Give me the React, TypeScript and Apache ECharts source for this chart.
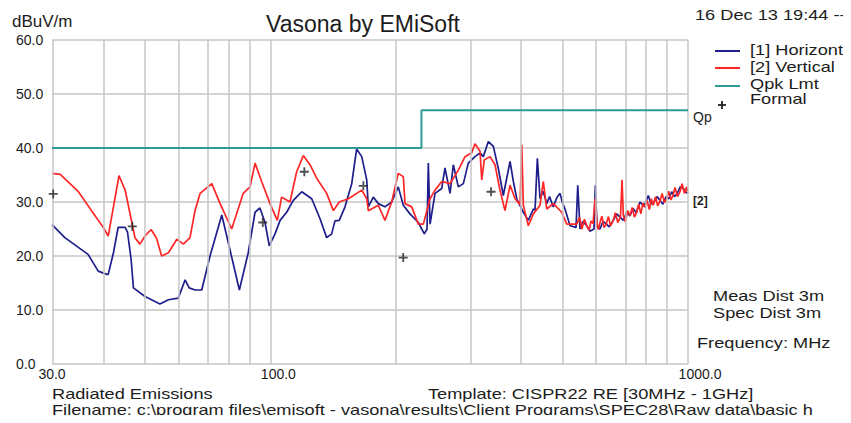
import React, { useEffect, useRef } from "react";
import * as echarts from "echarts";

// Frequency grid (MHz) and tick labels
const gridFreqs = [30, 40, 50, 60, 70, 80, 90, 100, 200, 300, 400, 500, 600, 700, 800, 900, 1000];
const tickFreqs = [30, 100, 1000];

// [1] Horizontal
const hFreq = [30, 32.2, 36.6, 38.7, 40.6, 40.9, 42.1, 43.2, 44.9, 45.5, 46.4, 47.0, 50.1, 54.4, 57.0, 60.2, 62.5, 63.9, 66.0, 68.5, 71.7, 76.5, 80.0, 84.3, 88.5, 91.9, 94.4, 97.1, 99.4, 102.6, 105.5, 109.4, 113.5, 118.9, 125.6, 131.5, 136.4, 140.2, 142.8, 146.2, 150.9, 156.6, 160.9, 165.5, 170.1, 171.6, 176.4, 181.3, 188.1, 195.2, 202.4, 208.1, 215.9, 226.1, 233.7, 237.2, 238.9, 241.2, 247.9, 257.2, 261.9, 269.3, 274.2, 281.9, 289.8, 297.8, 309.0, 317.7, 323.5, 332.6, 341.9, 351.4, 361.2, 374.9, 381.8, 389.0, 403.4, 414.7, 426.3, 430.3, 435.8, 442.3, 450, 458.9, 466, 475.9, 485, 493.8, 500, 507.6, 521.8, 539.4, 544.5, 551.4, 560, 572.2, 582, 595.7, 600.0, 605.5, 615.6, 626, 636.3, 648, 662.4, 675, 687.5, 700, 713.3, 726, 738.5, 752, 767.6, 785, 803.5, 816, 829.1, 843, 857.0, 871, 885.9, 900, 914.2, 928, 941.4, 958, 974.6, 988, 1000];
const hLevel = [25.8, 23.4, 20.3, 17.2, 16.6, 16.6, 20.6, 25.3, 25.3, 24.4, 19.4, 14.1, 12.5, 11.1, 11.9, 12.2, 15.6, 14.1, 13.7, 13.7, 20.0, 27.6, 21.2, 13.7, 20.6, 28.1, 28.9, 26.2, 21.9, 24.1, 26.6, 28.1, 30.3, 31.9, 30.6, 26.9, 23.4, 24.1, 26.5, 26.6, 29.1, 33.4, 39.8, 38.4, 34.1, 29.1, 30.9, 29.7, 29.1, 30.0, 32.8, 29.4, 27.8, 26.2, 24.1, 25.0, 37.2, 25.9, 31.6, 32.5, 36.3, 31.6, 36.9, 32.8, 33.4, 37.2, 38.4, 39.1, 38.4, 41.2, 40.3, 36.2, 31.2, 37.5, 33.8, 30.6, 28.1, 26.6, 28.7, 28.5, 38.1, 30.6, 32.0, 29.7, 31.0, 29.1, 30.8, 31.6, 30.0, 28.7, 25.6, 25.3, 33.1, 25.0, 26.4, 25.6, 24.6, 25.0, 33.1, 25.5, 25.0, 26.4, 26.0, 25.4, 26.6, 27.8, 27.2, 26.6, 28.1, 27.4, 28.8, 28.0, 30.0, 29.2, 31.2, 29.6, 30.0, 31.0, 30.3, 29.6, 31.0, 30.6, 31.9, 31.0, 31.5, 32.8, 32.5, 31.8, 31.6];

// [2] Vertical
const vFreq = [30, 31.4, 34.7, 37.3, 39.8, 40.9, 42.1, 43.4, 44.9, 46.4, 47.4, 48.7, 50.1, 51.8, 53.4, 54.9, 57.0, 59.7, 61.9, 64.2, 66.0, 67.9, 72.4, 75.8, 80.8, 86.1, 89.4, 91.9, 95.3, 99.8, 103.9, 106.4, 111.4, 115.6, 119.9, 124.4, 129.1, 136.4, 141.5, 146.2, 153.7, 165.5, 170.1, 171.6, 181.3, 188.1, 195.2, 202.4, 208.1, 210.1, 218.0, 226.1, 232.4, 241.2, 247.9, 257.2, 269.3, 281.9, 292.5, 303.4, 309.0, 317.7, 320.7, 325.3, 335.7, 345.0, 354.7, 364.6, 374.9, 385.4, 396.2, 399.9, 403.4, 414.7, 426.3, 442.3, 450.4, 458.9, 475.9, 498.4, 512.4, 541.5, 550, 557, 565, 572.2, 580, 586, 592.4, 599.0, 605.5, 610, 615.6, 622, 629, 636.3, 645, 652, 662.4, 670, 679, 689.3, 695.1, 700.1, 708, 717, 726.4, 735, 744, 753.7, 762, 771, 780, 789.0, 798, 808, 817, 826.0, 836, 846, 857.0, 867, 878, 889.3, 899, 910, 920.7, 931, 944, 956.9, 968, 980, 992.9, 1000];
const vLevel = [35.3, 35.1, 31.9, 28.4, 25.3, 23.7, 29.1, 34.9, 32.2, 26.9, 23.4, 22.2, 23.7, 24.9, 23.3, 20.0, 20.6, 23.1, 22.2, 23.4, 28.4, 31.6, 33.4, 29.7, 25.0, 31.6, 32.8, 37.2, 33.8, 29.7, 26.6, 30.9, 30.0, 35.6, 38.6, 36.9, 34.4, 31.6, 28.4, 30.0, 30.6, 32.2, 30.6, 28.4, 29.4, 26.6, 30.0, 35.3, 34.7, 29.7, 29.1, 25.9, 25.9, 30.6, 32.2, 33.8, 33.4, 35.9, 38.4, 39.1, 40.8, 39.4, 34.1, 37.8, 38.4, 36.9, 32.2, 28.4, 33.1, 30.6, 29.5, 40.6, 29.4, 25.6, 27.8, 29.4, 33.8, 28.7, 29.7, 28.1, 25.9, 25.9, 27.2, 25.0, 26.8, 25.6, 24.8, 26.5, 26.0, 30.6, 26.0, 24.9, 26.2, 27.4, 25.3, 25.8, 27.3, 25.6, 26.6, 28.0, 26.2, 27.3, 34.1, 27.5, 26.3, 28.4, 27.5, 29.0, 27.2, 28.1, 29.6, 27.8, 29.8, 29.0, 30.3, 28.6, 30.6, 29.4, 31.0, 29.3, 30.2, 31.6, 29.9, 30.6, 32.0, 30.4, 31.2, 32.7, 31.0, 31.9, 33.4, 31.6, 32.8, 31.6];

// Qpk limit
const limitFreq = [30, 230, 230, 1000];
const limitLevel = [40, 40, 47, 47];

// Formal measurements
const formalFreq = [30.2, 46.7, 95.9, 120.6, 167, 208, 337.6];
const formalLevel = [31.5, 25.5, 26.2, 35.6, 33.0, 19.7, 31.9];

const BLUE = "#1e1e8c";
const RED = "#ff2626";
const TEAL = "#2f9a93";
const GRID = "#c6c6c6";
const TXT = "#1c1c1c";
const FONT = "'Liberation Sans', Arial, sans-serif";

const lg = (f: number) => Math.log10(f);

export default function App() {
  const ref = useRef<HTMLDivElement>(null);
  useEffect(() => {
    if (!ref.current) return;
    const chart = echarts.init(ref.current, undefined, { renderer: "svg" });
    const txt = (x: number, y: number, text: string, size = 14, sx = 1.3, extra: any = {}) => ({
      type: "text",
      x,
      y,
      scaleX: sx,
      style: { text, font: `${size}px ${FONT}`, fill: TXT, verticalAlign: "middle", ...extra },
    });
    const labStyle = { fontSize: 14, fontFamily: FONT, color: TXT };
    const option: any = {
      animation: false,
      backgroundColor: "#ffffff",
      grid: { left: 52, right: 163, top: 40, bottom: 59 },
      xAxis: {
        type: "value",
        min: lg(30),
        max: 3,
        axisLine: { show: false },
        axisTick: { show: false },
        splitLine: { show: false },
        axisLabel: {
          customValues: tickFreqs.map(lg),
          formatter: (v: number) => {
            const f = Math.round(Math.pow(10, v));
            const s = f.toFixed(1);
            return f === 30 ? `{a|${s}}` : f === 100 ? `{b|${s}}` : `{c|${s}}`;
          },
          rich: {
            a: { ...labStyle },
            b: { ...labStyle, padding: [0, 0, 0, 16] },
            c: { ...labStyle, padding: [0, 0, 0, 24] },
          },
          ...labStyle,
          margin: 3,
        },
      },
      yAxis: {
        type: "value",
        min: 0,
        max: 60,
        interval: 10,
        axisLine: { show: false },
        axisTick: { show: false },
        splitLine: { lineStyle: { color: GRID, width: 1.5 } },
        axisLabel: {
          formatter: (v: number) => v.toFixed(1),
          ...labStyle,
          align: "left",
          margin: 36,
          padding: [0, 0, 5, 0],
        },
      },
      series: [
        {
          type: "line",
          data: [],
          z: 1,
          markLine: {
            silent: true,
            symbol: ["none", "none"],
            label: { show: false },
            lineStyle: { color: GRID, width: 1.5, type: "solid" },
            data: gridFreqs.map((f) => ({ xAxis: lg(f) })),
          },
        },
        {
          name: "[1] Horizontal",
          type: "line",
          z: 3,
          showSymbol: false,
          data: hFreq.map((f, i) => [lg(f), hLevel[i]]),
          lineStyle: { color: BLUE, width: 1.7 },
          itemStyle: { color: BLUE },
        },
        {
          name: "[2] Vertical",
          type: "line",
          z: 4,
          showSymbol: false,
          data: vFreq.map((f, i) => [lg(f), vLevel[i]]),
          lineStyle: { color: RED, width: 1.7 },
          itemStyle: { color: RED },
        },
        {
          name: "Qpk Lmt",
          type: "line",
          z: 5,
          showSymbol: false,
          data: limitFreq.map((f, i) => [lg(f), limitLevel[i]]),
          lineStyle: { color: TEAL, width: 2 },
          itemStyle: { color: TEAL },
        },
        {
          name: "Formal",
          type: "scatter",
          z: 6,
          clip: false,
          symbol: "path://M4,0H6V4H10V6H6V10H4V6H0V4H4Z",
          symbolSize: 9,
          itemStyle: { color: "#222222" },
          data: formalFreq.map((f, i) => [lg(f), formalLevel[i]]),
        },
      ],
      graphic: [
        txt(363, 24, "Vasona by EMiSoft", 23, 1, { align: "center" }),
        txt(12, 21, "dBuV/m", 17, 1),
        txt(695, 15, "16 Dec 13 19:44 --", 14),
        { type: "line", shape: { x1: 715, y1: 51, x2: 740, y2: 51 }, style: { stroke: BLUE, lineWidth: 2 } },
        { type: "line", shape: { x1: 715, y1: 68, x2: 740, y2: 68 }, style: { stroke: RED, lineWidth: 2 } },
        { type: "line", shape: { x1: 715, y1: 86, x2: 740, y2: 86 }, style: { stroke: TEAL, lineWidth: 2 } },
        { type: "line", shape: { x1: 718, y1: 105, x2: 726, y2: 105 }, style: { stroke: "#222", lineWidth: 1.8 } },
        { type: "line", shape: { x1: 722, y1: 101, x2: 722, y2: 109 }, style: { stroke: "#222", lineWidth: 1.8 } },
        txt(750, 50, "[1] Horizontal", 14),
        txt(750, 67, "[2] Vertical", 14),
        txt(750, 84, "Qpk Lmt", 14),
        txt(750, 99, "Formal", 14),
        txt(693, 117, "Qp", 14, 1),
        txt(693, 201, "[2]", 13, 1, { fontWeight: "bold" }),
        txt(713, 296, "Meas Dist 3m", 14),
        txt(713, 313, "Spec Dist 3m", 14),
        txt(697, 343, "Frequency: MHz", 14),
        txt(52, 394, "Radiated Emissions", 14),
        txt(428, 394, "Template: CISPR22 RE [30MHz - 1GHz]", 14),
        txt(52, 410, "Filename: c:\\program files\\emisoft - vasona\\results\\Client Programs\\SPEC28\\Raw data\\basic h", 14),
      ],
    };
    chart.setOption(option);
    return () => chart.dispose();
  }, []);
  return <div ref={ref} style={{ width: 851, height: 423, margin: -8 }} />;
}
